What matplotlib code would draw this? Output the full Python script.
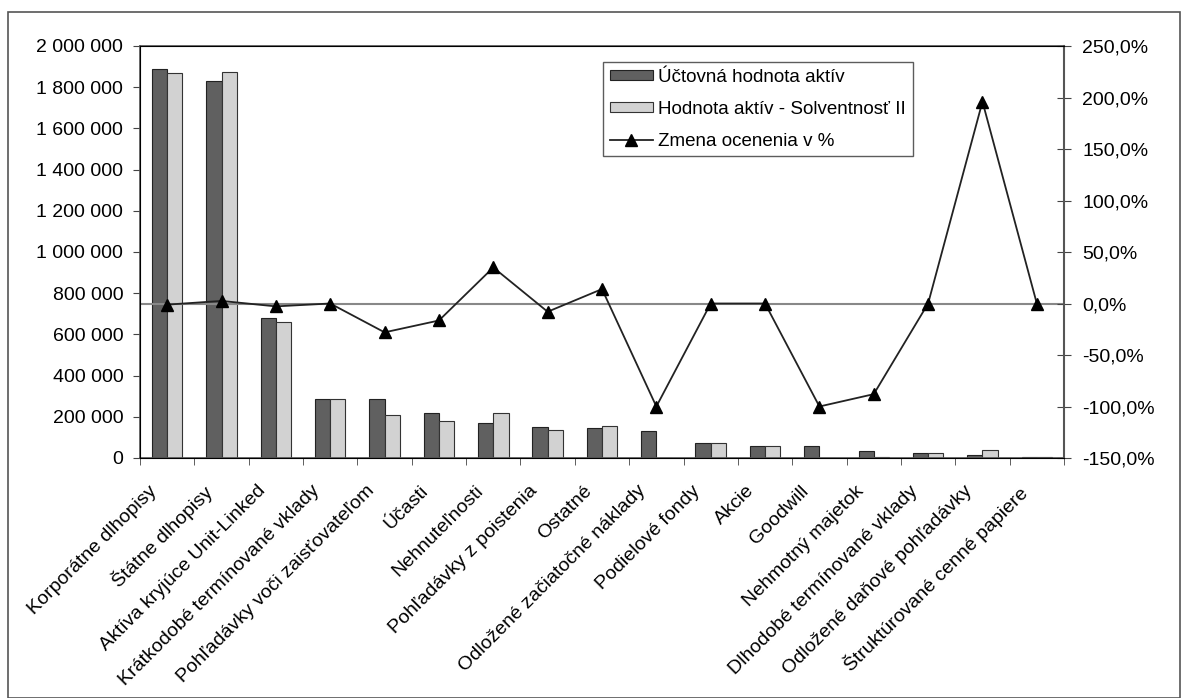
import matplotlib.pyplot as plt
import matplotlib.transforms as mtransforms
import numpy as np
from matplotlib.patches import Rectangle
from matplotlib.ticker import FuncFormatter, FixedLocator

plt.rcParams['font.family'] = ['Liberation Sans', 'DejaVu Sans']

# kategórie aktív
kategorie = [
    "Korporátne dlhopisy", "Štátne dlhopisy", "Aktíva kryjúce Unit-Linked",
    "Krátkodobé termínované vklady", "Pohľadávky voči zaisťovateľom", "Účasti",
    "Nehnuteľnosti", "Pohľadávky z poistenia", "Ostatné",
    "Odložené začiatočné náklady", "Podielové fondy", "Akcie", "Goodwill",
    "Nehmotný majetok", "Dlhodobé termínované vklady",
    "Odložené daňové pohľadávky", "Štruktúrované cenné papiere",
]
uctovna = [1887000, 1830000, 678000, 288000, 288000, 220000, 170000, 152000,
           144000, 129000, 73000, 60000, 60000, 35000, 23000, 13500, 3000]
solvency = [1867000, 1875000, 659000, 288000, 207000, 181000, 220000, 137000,
            157000, 0, 73000, 60000, 0, 4000, 23000, 40000, 3000]
zmena = [-1.1, 2.5, -2.8, 0.0, -28.0, -16.5, 35.0, -8.0, 14.0, -100.0,
         0.0, 0.0, -100.0, -88.0, 0.0, 196.0, 0.0]

W, H = 1188, 698
fig = plt.figure(figsize=(W / 100, H / 100), dpi=100)
fig.patches.append(Rectangle((8 / W, 0), (1180 - 8) / W, (H - 12) / H,
                             transform=fig.transFigure, fill=False,
                             edgecolor='#555555', linewidth=1.2))

ax = fig.add_axes([140 / W, (H - 458) / H, (1064 - 140) / W, (458 - 46) / H])
x = np.arange(len(kategorie))
w = 0.28
ax.bar(x - w / 2, uctovna, w, color='#606060', edgecolor='#222222',
       linewidth=0.8, label='Účtovná hodnota aktív')
ax.bar(x + w / 2, solvency, w, color='#d2d2d2', edgecolor='#333333',
       linewidth=0.8, label='Hodnota aktív - Solventnosť II')

ax.set_xlim(-0.5, len(kategorie) - 0.5)
ax.set_ylim(0, 2000000)
ax.set_yticks(np.arange(0, 2000001, 200000))
ax.yaxis.set_major_formatter(FuncFormatter(lambda v, p: f"{int(v):,}".replace(",", " ")))
ax.set_xticks(x)
ax.set_xticklabels(kategorie, rotation=45, ha='right', va='top',
                   rotation_mode='anchor', fontsize=14)
ax.tick_params(axis='x', which='major', length=0, pad=16)
# posun popisov kategórií doľava
posun = mtransforms.ScaledTranslation(-0.19, -0.02, fig.dpi_scale_trans)
for lbl in ax.get_xticklabels():
    lbl.set_transform(lbl.get_transform() + posun)
ax.xaxis.set_minor_locator(FixedLocator(np.arange(-0.5, len(kategorie), 1)))
ax.tick_params(axis='x', which='minor', length=5, direction='out', color='#444444')
ax.tick_params(axis='y', labelsize=14, length=5, pad=7, direction='out', color='#444444')
for s in ax.spines.values():
    s.set_color('#555555')
    s.set_linewidth(1.2)

ax2 = ax.twinx()
ax2.axhline(0, color='#888888', linewidth=1.5, zorder=1)
ax2.plot(x, zmena, color='#222222', linewidth=1.3, marker='^', markersize=8,
         markerfacecolor='black', markeredgecolor='black',
         label='Zmena ocenenia v %')
ax2.set_ylim(-150, 250)
ax2.set_yticks(np.arange(-150, 251, 50))
ax2.yaxis.set_major_formatter(FuncFormatter(lambda v, p: f"{v:.1f}%".replace(".", ",")))
ax2.tick_params(axis='y', labelsize=14, length=10, pad=8, direction='inout', color='#444444')
ax2.spines['right'].set_color('#555555')
ax2.spines['right'].set_linewidth(1.5)

h1, l1 = ax.get_legend_handles_labels()
h2, l2 = ax2.get_legend_handles_labels()
ax2.legend(h1 + h2, l1 + l2, loc='upper left',
           bbox_to_anchor=(603 / W, (H - 62) / H), bbox_transform=fig.transFigure,
           fontsize=13.5, frameon=True, fancybox=False, edgecolor='#333333',
           handlelength=2.3, handleheight=0.45, handletextpad=0.3,
           labelspacing=0.8, borderpad=0.35, borderaxespad=0)

fig.savefig('out.png', dpi=100)
